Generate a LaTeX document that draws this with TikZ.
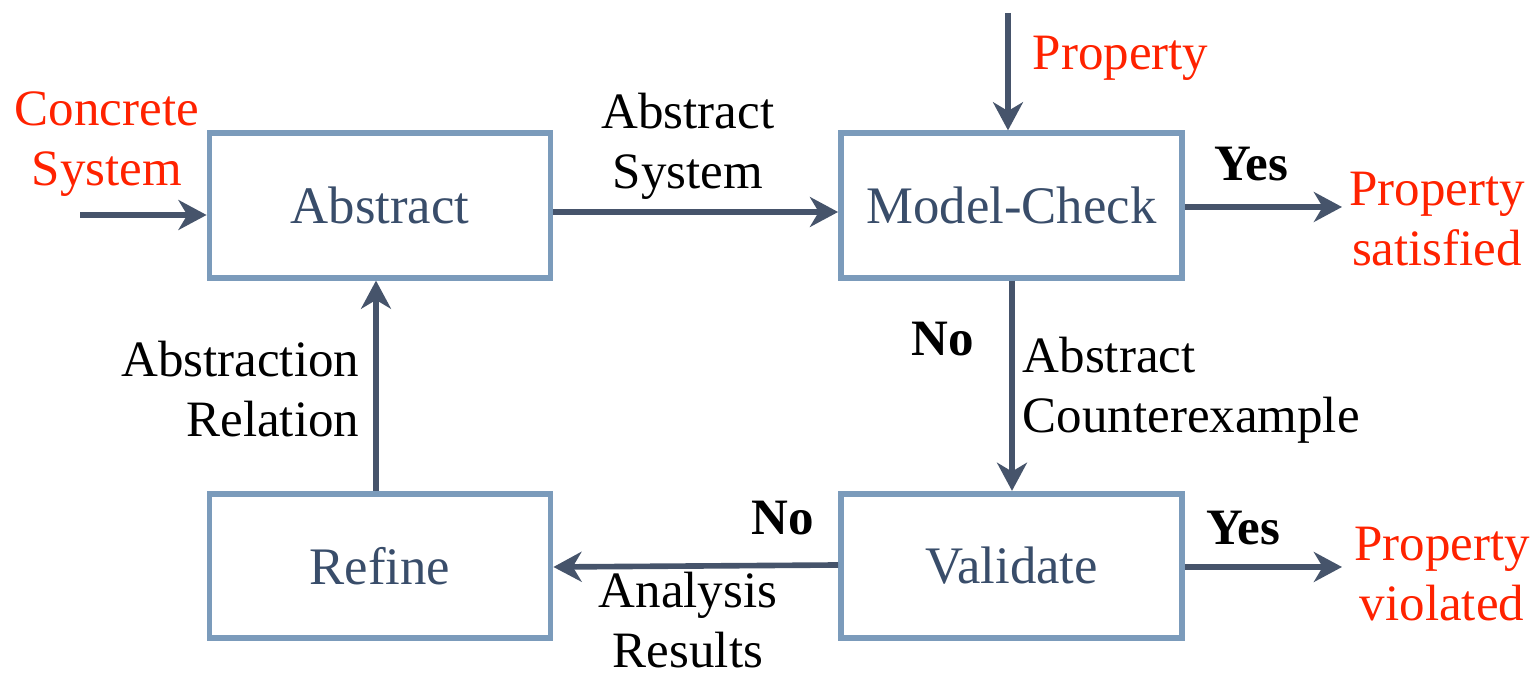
\documentclass[tikz,border=0pt]{standalone}
\usepackage{fontspec}
\setmainfont{Liberation Serif}
\usetikzlibrary{arrows.meta}
\definecolor{boxline}{RGB}{123,155,187}
\definecolor{boxtext}{RGB}{57,77,106}
\definecolor{arrowc}{RGB}{70,84,107}
\definecolor{redt}{RGB}{255,34,0}
\tikzset{
  box/.style={draw=boxline, line width=1.6pt, minimum width=3.41cm, minimum height=1.445cm, text=boxtext, font=\fontsize{15}{17}\selectfont},
  arr/.style={draw=arrowc, line width=1.6pt, -{Stealth[length=8pt,width=8.5pt,inset=2.5pt]}},
  lbl/.style={font=\fontsize{14.5}{17}\selectfont, inner sep=0pt},
  redlbl/.style={lbl, text=redt},
  bold/.style={lbl, font=\fontsize{14.5}{17}\selectfont\bfseries}
}
\begin{document}
\begin{tikzpicture}[x=0.01cm,y=-0.01cm]
\useasboundingbox (0,0) rectangle (1536,674);
\node[box] (abs) at (380,205.5) {Abstract};
\node[box] (mc) at (1011.5,205.5) {Model-Check};
\node[box] (ref) at (380,566) {Refine};
\node[box] (val) at (1011.5,566) {Validate};
\coordinate (cs) at (80,215);
\coordinate (pt) at (1008,13);
\coordinate (sat) at (1342,207);
\coordinate (vio) at (1342,567);
\draw[arr] (cs) -- (cs -| abs.west);
\draw[arr] (abs.east |- 0,212) -- (mc.west |- 0,212);
\draw[arr] (pt) -- (pt |- mc.north);
\draw[arr] (mc.east |- sat) -- (sat);
\draw[arr] (mc.south -| 1012,0) -- (val.north -| 1012,0);
\draw[arr] (val.west |- 0,565) -- (ref.east |- 0,567);
\draw[arr] (ref.north -| 376,0) -- (abs.south -| 376,0);
\draw[arr] (val.east |- vio) -- (vio);
\node[redlbl, align=center] (lcs) at (107,144) {Concrete\\System};
\node[lbl, align=center] (las) at (688,146) {Abstract\\System};
\node[redlbl, anchor=west] (lpr) at (1032,58) {Property};
\node[bold] (ly1) at (1251,164) {Yes};
\node[redlbl, align=center] (lsat) at (1437,219) {Property\\satisfied};
\node[bold] (ln1) at (943,339) {No};
\node[lbl, align=left, anchor=west] (lac) at (1022,390) {Abstract\\Counterexample};
\node[lbl, align=right, anchor=east] (lar) at (360,389) {Abstraction\\Relation};
\node[bold] (ln2) at (783,518) {No};
\node[lbl, align=center] (lres) at (688,620) {Analysis\\Results};
\node[bold] (ly2) at (1243,528) {Yes};
\node[redlbl, align=center] (lvio) at (1442,574) {Property\\violated};
\end{tikzpicture}
\end{document}
